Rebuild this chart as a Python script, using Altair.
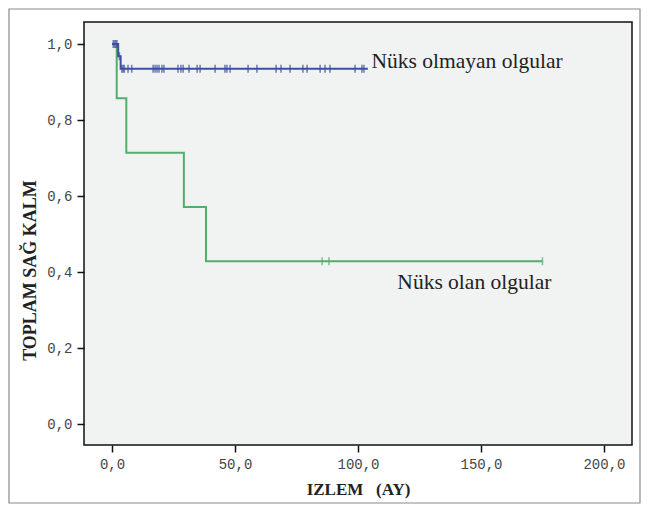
import altair as alt
import pandas as pd

# Nüks olmayan olgular (blue) step curve
blue_time = [0, 2.5, 3.5, 104]
blue_surv = [1.0, 0.968, 0.935, 0.935]
blue_cens_time = [0.5, 1.0, 1.5, 2.0, 3.0,
                  4.0, 4.5, 5.0, 6.5, 8.0,
                  16.7, 17.5, 18.3, 19.1, 20.3, 21.1, 26.8, 28.0, 28.9, 31.3,
                  34.6, 35.8, 41.9, 45.9, 46.7, 48.0, 55.3, 58.9, 66.7, 68.7,
                  72.4, 77.6, 79.3, 84.6, 86.6, 88.6, 98.8, 101.6, 102.4]
blue_cens_surv = [1.0, 1.0, 1.0, 1.0, 0.968] + [0.935] * 34

# Nüks olan olgular (green) step curve
green_time = [0, 1.9, 5.8, 29.2, 38.2, 175]
green_surv = [1.0, 6 / 7, 5 / 7, 4 / 7, 3 / 7, 3 / 7]
green_cens_time = [85.4, 88.2, 175]
green_cens_surv = [3 / 7, 3 / 7, 3 / 7]

x_ticks = [0, 50, 100, 150, 200]
y_ticks = [0.0, 0.2, 0.4, 0.6, 0.8, 1.0]

BLUE = "#3d4fa0"
GREEN = "#55ad6a"

blue_df = pd.DataFrame({"t": blue_time, "s": blue_surv})
green_df = pd.DataFrame({"t": green_time, "s": green_surv})
bc_df = pd.DataFrame({"t": blue_cens_time, "s": blue_cens_surv})
gc_df = pd.DataFrame({"t": green_cens_time, "s": green_cens_surv})

xs = alt.Scale(domain=[-11.4, 211.4], nice=False, zero=False)
ys = alt.Scale(domain=[-0.055, 1.058], nice=False, zero=False)

xax = alt.Axis(values=x_ticks, labelExpr="replace(format(datum.value, '.1f'), '.', ',')",
               title="IZLEM\u00a0\u00a0\u00a0(AY)", grid=False)
yax = alt.Axis(values=y_ticks, labelExpr="replace(format(datum.value, '.1f'), '.', ',')",
               title="TOPLAM SAĞ KALM", grid=False)


def step(df, color):
    return alt.Chart(df).mark_line(interpolate="step-after", color=color, strokeWidth=2).encode(
        x=alt.X("t:Q", scale=xs, axis=xax),
        y=alt.Y("s:Q", scale=ys, axis=yax),
    )


def ticks(df, color):
    return alt.Chart(df).mark_tick(orient="vertical", color=color, size=8, thickness=1.6).encode(
        x=alt.X("t:Q", scale=xs, axis=xax),
        y=alt.Y("s:Q", scale=ys, axis=yax),
    )


def label(text, xv, yv):
    return alt.Chart(pd.DataFrame({"a": [0]})).mark_text(
        text=text, align="left", baseline="middle",
        font="Liberation Serif", fontSize=21.5, color="#222222"
    ).encode(x=alt.X(datum=xv, scale=xs, axis=xax), y=alt.Y(datum=yv, scale=ys, axis=yax))


frame = alt.Chart(pd.DataFrame({"a": [0]})).mark_rect(
    fill=None, stroke="#8a8a8a", strokeWidth=1.2
).encode(x=alt.value(-75), x2=alt.value(556), y=alt.value(-13), y2=alt.value(481))

chart = alt.layer(
    step(green_df, GREEN),
    ticks(gc_df, GREEN),
    step(blue_df, BLUE),
    ticks(bc_df, BLUE),
    label("Nüks olmayan olgular", 105.5, 0.953),
    label("Nüks olan olgular", 116.0, 0.371),
    frame,
).properties(
    width=548, height=423,
    background="white",
    autosize=alt.AutoSizeParams(type="none"),
    padding={"left": 76, "top": 14, "right": 9, "bottom": 59},
).configure_view(
    fill="#f1f3f3", stroke="#111111", strokeWidth=1.5
).configure_axis(
    domain=False, tickColor="#111111", tickSize=7, tickWidth=1.5,
    labelFont="Liberation Mono", labelFontSize=14, labelColor="#444444",
    titleFont="Liberation Serif", titleFontWeight="bold", titleFontSize=17, titleColor="#222222",
).configure_axisX(
    labelPadding=5, titlePadding=10
).configure_axisY(
    labelPadding=5, titleX=-45, titleY=248, titleFontSize=18
)

chart.save("out.html", embed_options={"renderer": "svg", "actions": False})
